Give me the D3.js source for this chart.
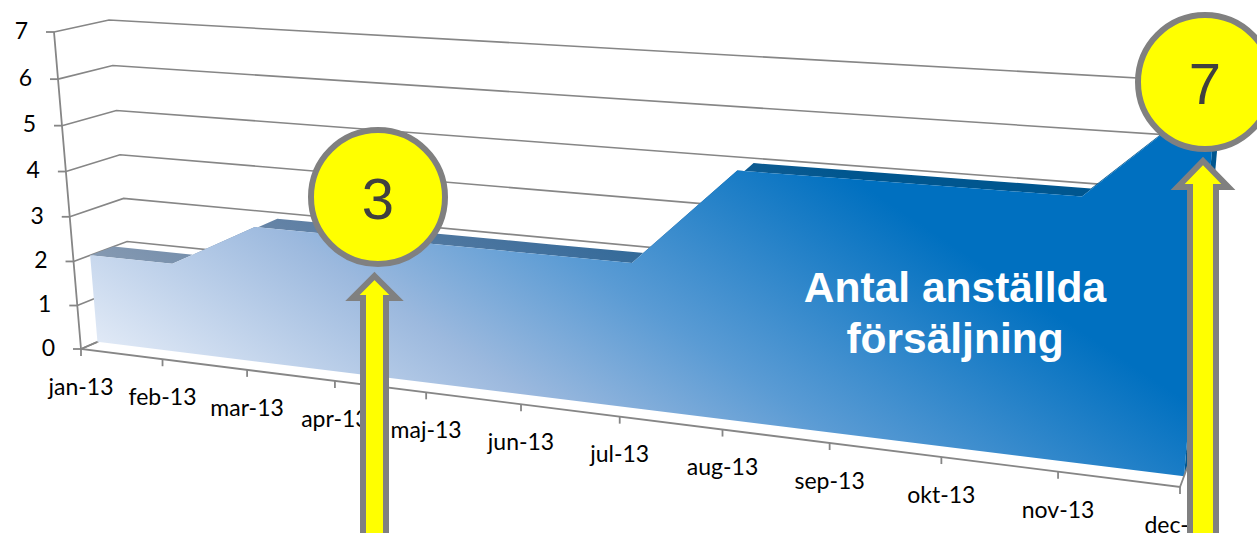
<!DOCTYPE html>
<html>
<head>
<meta charset="utf-8">
<script src="https://cdn.jsdelivr.net/npm/d3@7"></script>
<style>
  html, body { margin: 0; padding: 0; background: #fff; overflow: hidden; }
  svg { display: block; }
</style>
</head>
<body>
<svg id="chart" width="1257" height="533"></svg>
<script>
const MONTHS = ['jan-13', 'feb-13', 'mar-13', 'apr-13', 'maj-13', 'jun-13', 'jul-13', 'aug-13', 'sep-13', 'okt-13', 'nov-13', 'dec-13'];
const VALUES = [2, 2, 3, 3, 3, 3, 3, 5, 5, 5, 5, 7];
const Y_TICKS = [0, 1, 2, 3, 4, 5, 6, 7];
const SERIES_LABEL = ['Antal anställda', 'försäljning'];

const SVG = d3.select('#chart');
const GRAY = '#868686';

const U_SCALE = d3.scalePoint().domain(MONTHS).range([0, 1]);
const V_SCALE = d3.scaleLinear().domain([0, 7]).range([0, 1]);

// unit square -> four picture corners (p00, p10, p11, p01)
function homography(c) {
  const [[x0, y0], [x1, y1], [x2, y2], [x3, y3]] = c;
  const dx1 = x1 - x2, dx2 = x3 - x2, sx = x0 - x1 + x2 - x3;
  const dy1 = y1 - y2, dy2 = y3 - y2, sy = y0 - y1 + y2 - y3;
  const den = dx1 * dy2 - dx2 * dy1;
  const g = (sx * dy2 - dx2 * sy) / den;
  const h = (dx1 * sy - sx * dy1) / den;
  const a = x1 - x0 + g * x1, b = x3 - x0 + h * x3;
  const d = y1 - y0 + g * y1, e = y3 - y0 + h * y3;
  return (u, v) => {
    const w = g * u + h * v + 1;
    return [(a * u + b * v + x0) / w, (d * u + e * v + y0) / w];
  };
}

const FRONT = homography([[81, 349], [1180, 487], [1213, 95], [54, 32]]);
const BACK = homography([[134, 326], [1193, 452], [1226, 83], [109, 20]]);
const AREA_FRONT = 0.31;
const AREA_BACK = 0.75;

function proj(month, value, depth) {
  const u = U_SCALE(month), v = V_SCALE(value);
  const p = FRONT(u, v), q = BACK(u, v);
  return [p[0] + (q[0] - p[0]) * depth, p[1] + (q[1] - p[1]) * depth];
}

const LINE = d3.line();
const FIRST = MONTHS[0], LAST = MONTHS[MONTHS.length - 1];

// gradients
const DEFS = SVG.append('defs');
function gradient(id, stops) {
  const g = DEFS.append('linearGradient').attr('id', id)
    .attr('gradientUnits', 'userSpaceOnUse')
    .attr('x1', 97).attr('y1', 342).attr('x2', 405).attr('y2', -120);
  stops.forEach((s) => g.append('stop').attr('offset', s[0]).attr('stop-color', s[1]));
}
gradient('faceFill', [[0, '#e0e9f6'], [0.35, '#9cb9de'], [0.6, '#5a9bd4'], [1, '#0070c0']]);
gradient('topFill', [[0, '#98a6b8'], [0.35, '#6483a6'], [0.6, '#3f6f9c'], [1, '#00568f']]);

// walls
const WALLS = SVG.append('g').attr('id', 'walls').attr('fill', 'none').attr('stroke', GRAY).attr('stroke-width', 1.6);
Y_TICKS.forEach((t) => {
  WALLS.append('path').attr('d', LINE([proj(FIRST, t, 0), proj(FIRST, t, 1), proj(LAST, t, 1)]));
});

// area
const AREA = SVG.append('g').attr('id', 'area');
const TOP_PATH = VALUES.slice(0, -1).map((val, i) => {
  const a = MONTHS[i], b = MONTHS[i + 1], next = VALUES[i + 1];
  return LINE([proj(a, val, AREA_FRONT), proj(b, next, AREA_FRONT), proj(b, next, AREA_BACK), proj(a, val, AREA_BACK)]) + 'Z';
}).join('');
AREA.append('path').attr('d', TOP_PATH).attr('fill', 'url(#topFill)');
AREA.append('path')
  .attr('d', LINE([proj(LAST, 0, AREA_FRONT), proj(LAST, 7, AREA_FRONT), proj(LAST, 7, AREA_BACK), proj(LAST, 0, AREA_BACK)]) + 'Z')
  .attr('fill', '#00568f');
const FACE = MONTHS.map((m, i) => proj(m, VALUES[i], AREA_FRONT));
FACE.push(proj(LAST, 0, AREA_FRONT), proj(FIRST, 0, AREA_FRONT));
AREA.append('path').attr('d', LINE(FACE) + 'Z').attr('fill', 'url(#faceFill)');

// axes
const AXES = SVG.append('g').attr('id', 'axes').attr('fill', 'none').attr('stroke', GRAY).attr('stroke-width', 1.8);
AXES.append('path').attr('d', LINE([proj(FIRST, 7, 0), proj(FIRST, 0, 0), proj(LAST, 0, 0), proj(LAST, 0, 0.8)]));
AXES.append('path').attr('d', LINE([proj(FIRST, 0, 0), proj(FIRST, 0, 0.3)]));

const LABELS = SVG.append('g').attr('id', 'labels')
  .attr('font-family', 'Lato, sans-serif').attr('fill', '#000');

Y_TICKS.forEach((t) => {
  const [x, y] = proj(FIRST, t, 0);
  AXES.append('line').attr('x1', x - 8).attr('x2', x).attr('y1', y).attr('y2', y);
  LABELS.append('text').attr('x', x - 26).attr('y', y + 1)
    .attr('text-anchor', 'end').attr('dominant-baseline', 'middle')
    .attr('font-size', 23).text(t);
});

MONTHS.forEach((m) => {
  const [x, y] = proj(m, 0, 0);
  AXES.append('line').attr('x1', x).attr('x2', x).attr('y1', y).attr('y2', y + 7);
  LABELS.append('text').attr('x', x).attr('y', y + 40)
    .attr('text-anchor', 'middle').attr('dominant-baseline', 'middle')
    .attr('font-size', 23).text(m);
});

// series label
SVG.append('g').selectAll('text').data(SERIES_LABEL).join('text')
  .attr('x', 955).attr('y', (d, i) => 302 + i * 51)
  .attr('text-anchor', 'middle')
  .attr('font-family', '"Liberation Sans", Arial, sans-serif')
  .attr('font-weight', 'bold').attr('font-size', 42.5)
  .attr('fill', '#fff').text((d) => d);

// callouts
function callout(month, cx, cy, ax, tipY, baseY, headHalf, shaftHalf) {
  const g = SVG.append('g').attr('stroke', '#808080').attr('stroke-width', 6).attr('fill', '#ffff00');
  g.append('path')
    .attr('d', LINE([[ax, tipY], [ax + headHalf, baseY], [ax + shaftHalf, baseY], [ax + shaftHalf, 545], [ax - shaftHalf, 545], [ax - shaftHalf, baseY], [ax - headHalf, baseY]]) + 'Z')
    .attr('stroke-miterlimit', 10);
  g.append('circle').attr('cx', cx).attr('cy', cy).attr('r', 67);
  g.append('text').attr('x', cx).attr('y', cy + 22)
    .attr('text-anchor', 'middle').attr('stroke', 'none').attr('fill', '#404040')
    .attr('font-family', '"Liberation Sans", Arial, sans-serif').attr('font-size', 58)
    .text(VALUES[MONTHS.indexOf(month)]);
}
callout('mar-13', 378, 197, 374.5, 276, 298, 22, 11.5);
callout('dec-13', 1205, 82, 1203, 161, 187, 25.3, 13);
</script>
</body>
</html>
